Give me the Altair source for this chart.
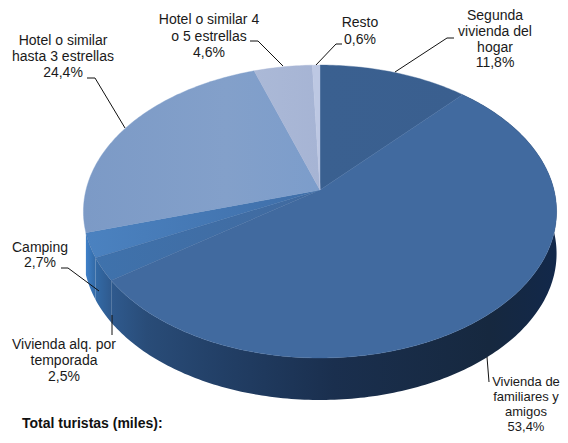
import math
import altair as alt
import pandas as pd

# Data
categories = ["Segunda vivienda del hogar", "Vivienda de familiares y amigos",
              "Vivienda alq. por temporada", "Camping",
              "Hotel o similar hasta 3 estrellas", "Hotel o similar 4 o 5 estrellas", "Resto"]
shares = [11.8, 53.4, 2.5, 2.7, 24.4, 4.6, 0.6]

# Styles
top_stops = [
    [(0.0, "#3A6090"), (1.0, "#3A5F8F")],
    [(0.0, "#416A9F"), (1.0, "#416A9F")],
    [(0.0, "#3F72AC"), (1.0, "#416A9F")],
    [(0.0, "#4B82C0"), (1.0, "#3F6EA8")],
    [(0.0, "#7C9AC6"), (0.6, "#83A0CA"), (1.0, "#7C9DCB")],
    [(0.0, "#ABB9D7"), (1.0, "#A6B4D4")],
    [(0.0, "#BDC8E3"), (1.0, "#BDC8E3")],
]
side_stops = {
    1: [(0.0, "#2F5A8E"), (0.08, "#294C78"), (0.25, "#223F66"), (0.5, "#1A2F4E"), (0.85, "#16283F"), (1.0, "#12284A")],
    2: [(0.0, "#336AA6"), (1.0, "#2F5A8E")],
    3: [(0.0, "#3F80C8"), (1.0, "#336AA6")],
}

# Layout (page pixels): apex of the pie, perspective, depth of the wall
APEX_X, APEX_Y = 320, 190
RX, RY, TILT = 234.0, 143.3, 0.147
DEPTH = 42
W, H = 552, 427

label_lines = [
    ("Segunda", 495, 16), ("vivienda del", 495, 32), ("hogar", 495, 48), ("11,8%", 495, 63),
    ("Resto", 360, 23), ("0,6%", 360, 40),
    ("Hotel o similar 4", 209, 20), ("o 5 estrellas", 209, 37), ("4,6%", 209, 53),
    ("Hotel o similar", 63, 41), ("hasta 3 estrellas", 63, 57), ("24,4%", 63, 73),
    ("Camping", 40, 248), ("2,7%", 40, 263),
    ("Vivienda alq. por", 64, 345), ("temporada", 64, 361), ("2,5%", 64, 377),
]
corner_lines = [
    ("Vivienda de", 526, 382), ("familiares y", 526, 397), ("amigos", 526, 412), ("53,4%", 526, 427),
]
leaders = [
    [(342, 44), (336, 44), (316, 65)],
    [(454, 38), (447, 38), (395, 72)],
    [(250, 41), (258, 41), (283, 66)],
    [(87, 78), (95, 78), (125, 128)],
    [(61, 268), (68, 268), (99, 291)],
    [(112, 315), (112, 335)],
    [(487, 357), (489, 382)],
]

xs = alt.X("x:Q", axis=None, scale=alt.Scale(domain=[0, W], range=[0, W]))
ys = alt.Y("y:Q", axis=None, scale=alt.Scale(domain=[0, H], range=[0, H]))


def rim(pct):
    th = 2 * math.pi * pct / 100
    u, v = math.sin(th), math.cos(th)
    w = 1 + TILT * v
    return APEX_X + RX * u / w - 8, APEX_Y - RY * v / w - 8


def arc(a, b):
    n = max(2, int((b - a) * 4))
    return [rim(a + (b - a) * i / n) for i in range(n + 1)]


def poly(points, **mark):
    df = pd.DataFrame([{"x": p[0], "y": p[1], "i": i} for i, p in enumerate(points)])
    return alt.Chart(df).mark_line(interpolate="linear-closed", **mark).encode(
        x=xs, y=ys, order="i:Q")


def grad(stops):
    return alt.Gradient(gradient="linear", x1=0, x2=1, y1=0, y2=0,
                        stops=[alt.GradientStop(offset=o, color=c) for o, c in stops])


layers = []
edges = [0]
for s in shares:
    edges.append(edges[-1] + s)

for i in (2, 3, 1):
    pts = arc(edges[i], edges[i + 1])
    wall = pts + [(x, y + DEPTH) for x, y in reversed(pts)]
    layers.append(poly(wall, fill=grad(side_stops[i]), strokeWidth=0))

apex = (APEX_X - 8, APEX_Y - 8)
for i, stops in enumerate(top_stops):
    layers.append(poly([apex] + arc(edges[i], edges[i + 1]), fill=grad(stops), stroke=stops[-1][1], strokeWidth=0.4))

for seg in leaders:
    df = pd.DataFrame([{"x": p[0] - 8, "y": p[1] - 8, "i": i} for i, p in enumerate(seg)])
    layers.append(alt.Chart(df).mark_line(color="#111111", strokeWidth=1).encode(x=xs, y=ys, order="i:Q"))

labels = pd.DataFrame([{"t": t, "x": x - 8, "y": y - 8} for t, x, y in label_lines])
layers.append(alt.Chart(labels).mark_text(font="Liberation Sans", fontSize=14, color="#1a1a1a",
                                          align="center", baseline="middle")
              .encode(x=xs, y=ys, text="t:N"))

corner = pd.DataFrame([{"t": t, "x": x - 8, "y": y - 8} for t, x, y in corner_lines])
layers.append(alt.Chart(corner).mark_text(font="Liberation Sans", fontSize=13, color="#1a1a1a",
                                          align="center", baseline="middle")
              .encode(x=xs, y=ys, text="t:N"))

total = pd.DataFrame([{"t": "Total turistas (miles):", "x": 22 - 8, "y": 424 - 8}])
layers.append(alt.Chart(total).mark_text(font="Liberation Sans", fontWeight="bold", fontSize=14,
                                         color="#111111", align="left", baseline="middle")
              .encode(x=xs, y=ys, text="t:N"))

chart = alt.layer(*layers).properties(width=W, height=H, padding=0, autosize=alt.AutoSizeParams(type="none"),
                                      background="white").configure_view(stroke=None)
chart.save("out.html", embed_options={"renderer": "svg", "actions": False})
